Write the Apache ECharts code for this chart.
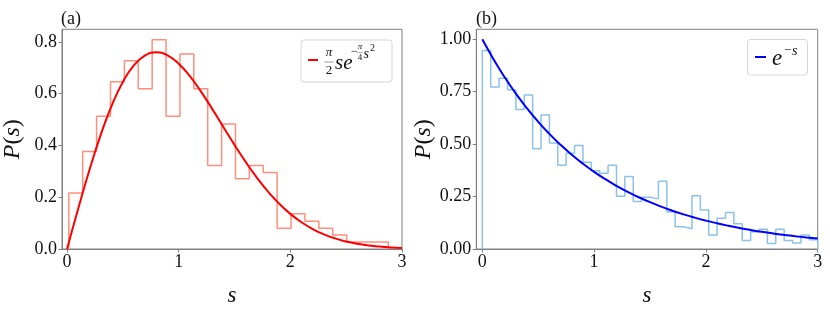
<!DOCTYPE html>
<html>
<head>
<meta charset="utf-8">
<script src="https://cdn.jsdelivr.net/npm/echarts@6/dist/echarts.min.js"></script>
<style>html,body{margin:0;padding:0;background:#fff}#c{width:830px;height:312px}</style>
</head>
<body>
<div id="c"></div>
<script>
// ---- data ----
const xTicks = [0, 1, 2, 3];
const leftYTicks = [0, 0.2, 0.4, 0.6, 0.8];
const rightYTicks = [0, 0.25, 0.5, 0.75, 1.0];

// (a) histogram: first edge, bin width, densities
const leftBinStart = 0.016;
const leftBinWidth = 0.1244;
const leftHist = [0.216,0.377,0.513,0.646,0.727,0.619,0.809,0.513,0.754,0.619,0.323,0.483,0.271,0.323,0.296,0.080,0.136,0.107,0.080,0.054,0.027,0.027,0.027];

// (b) histogram
const rightBinStart = 0.0;
const rightBinWidth = 0.075;
const rightHist = [0.947,0.772,0.814,0.759,0.665,0.734,0.478,0.639,0.505,0.399,0.457,0.493,0.414,0.373,0.361,0.399,0.251,0.346,0.227,0.247,0.239,0.323,0.178,0.106,0.097,0.254,0.186,0.067,0.147,0.174,0.120,0.041,0.082,0.094,0.026,0.094,0.041,0.029,0.067,0.044];

// curves sampled at s = 0, 0.1, ..., 3.0
const curveS = [0,0.1,0.2,0.3,0.4,0.5,0.6,0.7,0.8,0.9,1.0,1.1,1.2,1.3,1.4,1.5,1.6,1.7,1.8,1.9,2.0,2.1,2.2,2.3,2.4,2.5,2.6,2.7,2.8,2.9,3.0];
const wignerVals = [0,0.15585,0.30444,0.43908,0.55412,0.64538,0.71036,0.74832,0.76017,0.74829,0.71619,0.66803,0.60831,0.54152,0.47174,0.40249,0.33654,0.27593,0.22194,0.17520,0.13576,0.10335,0.07720,0.05668,0.04088,0.02899,0.02020,0.01383,0.00931,0.00616,0.00401];
const poissonVals = [1,0.90484,0.81873,0.74082,0.67032,0.60653,0.54881,0.49659,0.44933,0.40657,0.36788,0.33287,0.30119,0.27253,0.24660,0.22313,0.20190,0.18268,0.16530,0.14957,0.13534,0.12246,0.11080,0.10026,0.09072,0.08208,0.07427,0.06721,0.06081,0.05502,0.04979];

// ---- build ----
function stepPoints(start, width, vals) {
  const pts = [[start, 0]];
  vals.forEach((v, i) => {
    const a = start + i * width, b = start + (i + 1) * width;
    pts.push([a, v]); pts.push([b, v]);
  });
  pts.push([start + vals.length * width, 0]);
  return pts;
}
function zipXY(xs, ys) { return xs.map((x, i) => [x, ys[i]]); }

const SERIF = '"Liberation Serif", "DejaVu Serif", serif';
const AX = '#808080';

function xAxisCfg(idx, min) {
  return {
    type: 'value', gridIndex: idx, min: min, max: 3,
    axisLine: { show: true, onZero: false, lineStyle: { color: AX, width: 1 } },
    axisTick: { show: true, customValues: xTicks, length: 3.5, lineStyle: { color: AX } },
    axisLabel: { customValues: xTicks, margin: 4, color: '#111', fontFamily: SERIF, fontSize: 18 },
    splitLine: { show: false },
    name: 's', nameLocation: 'middle', nameGap: 35,
    nameTextStyle: { fontFamily: SERIF, fontStyle: 'italic', fontSize: 23, color: '#111' }
  };
}
function yAxisCfg(idx, max, ticks, digits) {
  return {
    type: 'value', gridIndex: idx, min: 0, max: max,
    axisLine: { show: true, onZero: false, lineStyle: { color: AX, width: 1 } },
    axisTick: { show: true, customValues: ticks, length: 3.5, lineStyle: { color: AX } },
    axisLabel: { customValues: ticks, margin: 5, color: '#111', fontFamily: SERIF, fontSize: 18,
      formatter: v => v.toFixed(digits) },
    splitLine: { show: false },
    name: '{i|P}{r|(}{i|s}{r|)}', nameLocation: 'middle', nameGap: 37, nameRotate: 90,
    nameTextStyle: { color: '#111', rich: {
      i: { fontFamily: SERIF, fontStyle: 'italic', fontSize: 24, color: '#111' },
      r: { fontFamily: SERIF, fontSize: 24, color: '#111' } } }
  };
}

function txt(x, y, text, size, italic, align) {
  return { type: 'text', x: x, y: y, z: 100,
    style: { text: text, fill: '#111', fontFamily: SERIF, fontSize: size,
      fontStyle: italic ? 'italic' : 'normal', align: align || 'left', verticalAlign: 'middle' } };
}

const chart = echarts.init(document.getElementById('c'), null, { renderer: 'canvas' });
chart.setOption({
  animation: false,
  backgroundColor: '#fff',
  grid: [
    { left: 61.3, top: 29.3, width: 340.7, height: 229.7, show: true, borderColor: AX, borderWidth: 1, backgroundColor: 'transparent' },
    { left: 476.3, top: 29.3, width: 341.4, height: 229.7, show: true, borderColor: AX, borderWidth: 1, backgroundColor: 'transparent' }
  ],
  xAxis: [xAxisCfg(0, -0.045), xAxisCfg(1, -0.054)],
  yAxis: [yAxisCfg(0, 0.849, leftYTicks, 1), yAxisCfg(1, 1.0475, rightYTicks, 2)],
  series: [
    { type: 'line', xAxisIndex: 0, yAxisIndex: 0, data: stepPoints(leftBinStart, leftBinWidth, leftHist),
      symbol: 'none', lineStyle: { color: '#ff8f7c', width: 1.5 }, z: 2, silent: true },
    { type: 'line', xAxisIndex: 0, yAxisIndex: 0, data: zipXY(curveS, wignerVals), smooth: true,
      symbol: 'none', lineStyle: { color: '#ff0000', width: 2 }, z: 3, silent: true },
    { type: 'line', xAxisIndex: 1, yAxisIndex: 1, data: stepPoints(rightBinStart, rightBinWidth, rightHist),
      symbol: 'none', lineStyle: { color: '#8cc2e8', width: 1.5 }, z: 2, silent: true },
    { type: 'line', xAxisIndex: 1, yAxisIndex: 1, data: zipXY(curveS, poissonVals), smooth: true,
      symbol: 'none', lineStyle: { color: '#0000ff', width: 2 }, z: 3, silent: true }
  ],
  graphic: [
    txt(61, 19, '(a)', 18, false),
    txt(476, 19, '(b)', 18, false),
    // legend (a)
    { type: 'rect', z: 90, shape: { x: 301, y: 40, width: 91, height: 42, r: 3 },
      style: { fill: 'rgba(255,255,255,0.85)', stroke: '#d6d6d6', lineWidth: 1 } },
    { type: 'line', z: 100, shape: { x1: 308, y1: 60, x2: 318, y2: 60 }, style: { stroke: '#ff0000', lineWidth: 2 } },
    txt(329, 53, 'π', 13, true, 'center'),
    { type: 'line', z: 100, shape: { x1: 324.5, y1: 62, x2: 333.5, y2: 62 }, style: { stroke: '#555', lineWidth: 0.6 } },
    txt(329, 71, '2', 13, false, 'center'),
    txt(335, 63, 'se', 21, true),
    txt(351, 52, '−', 12, false),
    txt(360, 47, 'π', 9, true, 'center'),
    { type: 'line', z: 100, shape: { x1: 357, y1: 52.5, x2: 363, y2: 52.5 }, style: { stroke: '#666', lineWidth: 0.5 } },
    txt(360, 58, '4', 9, false, 'center'),
    txt(363.5, 54, 's', 14, true),
    txt(370, 48, '2', 10, false),
    // legend (b)
    { type: 'rect', z: 90, shape: { x: 747.5, y: 39.5, width: 60, height: 35.5, r: 3 },
      style: { fill: 'rgba(255,255,255,0.85)', stroke: '#d6d6d6', lineWidth: 1 } },
    { type: 'line', z: 100, shape: { x1: 755, y1: 57, x2: 766, y2: 57 }, style: { stroke: '#0000ff', lineWidth: 2 } },
    txt(772, 59, 'e', 23, true),
    txt(784, 51, '−', 13, false),
    txt(792, 51, 's', 14, true)
  ]
});
</script>
</body>
</html>
